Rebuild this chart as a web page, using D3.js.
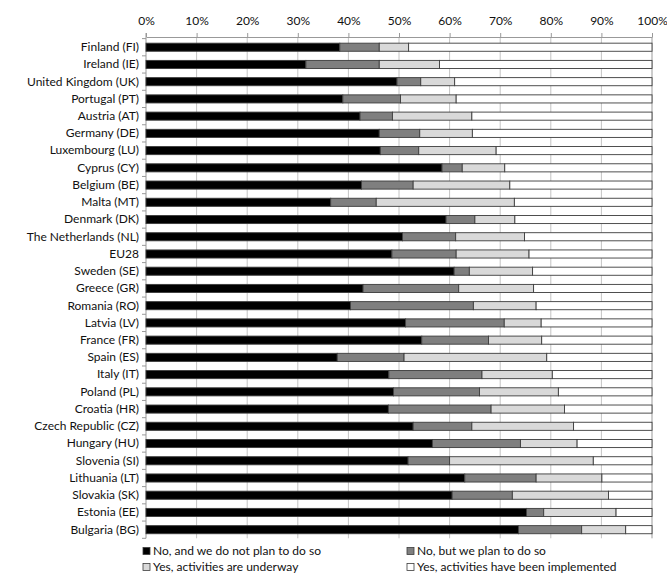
<!DOCTYPE html>
<html>
<head>
<meta charset="utf-8">
<script src="https://cdn.jsdelivr.net/npm/d3@7"></script>
<style>
  body { margin: 0; background: #fff; }
  text { font-family: Lato, "Open Sans", sans-serif; fill: #111; }
</style>
</head>
<body>
<svg id="chart" width="667" height="578"></svg>
<script>
// categories, top to bottom
const countries = ["Finland (FI)", "Ireland (IE)", "United Kingdom (UK)", "Portugal (PT)", "Austria (AT)",
  "Germany (DE)", "Luxembourg (LU)", "Cyprus (CY)", "Belgium (BE)", "Malta (MT)", "Denmark (DK)",
  "The Netherlands (NL)", "EU28", "Sweden (SE)", "Greece (GR)", "Romania (RO)", "Latvia (LV)",
  "France (FR)", "Spain (ES)", "Italy (IT)", "Poland (PL)", "Croatia (HR)", "Czech Republic (CZ)",
  "Hungary (HU)", "Slovenia (SI)", "Lithuania (LT)", "Slovakia (SK)", "Estonia (EE)", "Bulgaria (BG)"];

// shares in % per answer
const noNoPlan   = [38.3, 31.6, 49.6, 38.9, 42.3, 46.1, 46.3, 58.5, 42.6, 36.5, 59.3, 50.7, 48.6, 60.9, 42.9,
  40.4, 51.3, 54.5, 37.8, 48.0, 48.9, 47.9, 52.8, 56.6, 51.8, 63.0, 60.5, 75.2, 73.6];
const noButPlan  = [7.8, 14.5, 4.7, 11.4, 6.4, 8.0, 7.6, 4.0, 10.2, 9.0, 5.7, 10.5, 12.7, 3.0, 18.9,
  24.3, 19.5, 13.2, 13.2, 18.4, 17.0, 20.3, 11.6, 17.4, 8.2, 14.1, 11.9, 3.4, 12.5];
const underway   = [5.8, 11.9, 6.7, 11.0, 15.7, 10.4, 15.3, 8.4, 19.1, 27.3, 7.9, 13.6, 14.4, 12.5, 14.8,
  12.4, 7.3, 10.5, 28.2, 13.9, 15.6, 14.5, 20.1, 11.2, 28.4, 13.0, 19.0, 14.3, 8.7];
// remaining share = "Yes, activities have been implemented"

const seriesNames = ["No, and we do not plan to do so", "No, but we plan to do so",
  "Yes, activities are underway", "Yes, activities have been implemented"];
const seriesColours = ["#000000", "#7f7f7f", "#d9d9d9", "#ffffff"];
const xTicks = [0, 10, 20, 30, 40, 50, 60, 70, 80, 90, 100];

// table for the stack
const rows = countries.map((c, i) => ({
  country: c,
  s0: noNoPlan[i],
  s1: noButPlan[i],
  s2: underway[i],
  s3: 100 - noNoPlan[i] - noButPlan[i] - underway[i]
}));

const width = 667;
const plotLeft = 146, plotRight = 652;
const axisTop = 37, plotTop = 38.6, plotBottom = 538.3;
const fontSize = "12px";

const svg = d3.select("#chart");

const x = d3.scaleLinear().domain([0, 100]).range([plotLeft, plotRight]);
const y = d3.scaleBand().domain(countries).range([plotTop, plotBottom])
  .paddingInner(0.53).paddingOuter(0.265);

// gridlines
svg.append("g")
  .selectAll("line")
  .data(xTicks.slice(1))
  .join("line")
    .attr("x1", d => x(d)).attr("x2", d => x(d))
    .attr("y1", axisTop).attr("y2", plotBottom)
    .attr("stroke", d => d === 100 ? "#9a9a9a" : "#c4c4c4")
    .attr("stroke-width", 1);

// top axis
svg.append("g")
  .attr("transform", `translate(0, ${axisTop})`)
  .call(d3.axisTop(x).tickValues(xTicks).tickFormat(d => d + "%").tickSize(4).tickPadding(8).tickSizeOuter(0))
  .call(g => g.select(".domain").attr("stroke", "#999"))
  .call(g => g.selectAll(".tick line").attr("stroke", "#999"))
  .call(g => g.selectAll("text").attr("font-size", fontSize).attr("font-family", "Lato, sans-serif").attr("fill", "#111"));

// left axis, category labels
svg.append("g")
  .attr("transform", `translate(${plotLeft}, 0)`)
  .call(d3.axisLeft(y).tickSize(0).tickPadding(7))
  .call(g => g.select(".domain").remove())
  .call(g => g.selectAll("text").attr("font-size", fontSize).attr("font-family", "Lato, sans-serif").attr("fill", "#111"));

svg.append("line")
  .attr("x1", plotLeft).attr("x2", plotLeft)
  .attr("y1", axisTop - 4).attr("y2", plotBottom)
  .attr("stroke", "#999");

// small ticks between categories
const step = y.step();
svg.append("g")
  .selectAll("line")
  .data(d3.range(countries.length + 1))
  .join("line")
    .attr("x1", plotLeft - 4).attr("x2", plotLeft)
    .attr("y1", i => y(countries[0]) - y.paddingInner() * step / 2 + i * step)
    .attr("y2", i => y(countries[0]) - y.paddingInner() * step / 2 + i * step)
    .attr("stroke", "#999");

// stacked bars
const stacked = d3.stack().keys(["s0", "s1", "s2", "s3"])(rows);

svg.append("g")
  .selectAll("g")
  .data(stacked)
  .join("g")
    .attr("fill", (d, i) => seriesColours[i])
  .selectAll("rect")
  .data(d => d)
  .join("rect")
    .attr("x", d => x(d[0]))
    .attr("y", d => y(d.data.country))
    .attr("width", d => x(d[1]) - x(d[0]))
    .attr("height", y.bandwidth())
    .attr("stroke", "#3c3c3c")
    .attr("stroke-width", 0.9);

// legend
const legendPos = [[143, 551], [407, 551], [143, 567], [407, 567]];
const legend = svg.append("g")
  .selectAll("g")
  .data(seriesNames)
  .join("g")
    .attr("transform", (d, i) => `translate(${legendPos[i][0]}, ${legendPos[i][1]})`);

legend.append("rect")
  .attr("x", 0).attr("y", -3.5)
  .attr("width", 7).attr("height", 7)
  .attr("fill", (d, i) => seriesColours[i])
  .attr("stroke", "#3c3c3c")
  .attr("stroke-width", 0.8);

legend.append("text")
  .attr("x", 10)
  .attr("dy", "0.35em")
  .attr("font-size", fontSize)
  .text(d => d);
</script>
</body>
</html>
